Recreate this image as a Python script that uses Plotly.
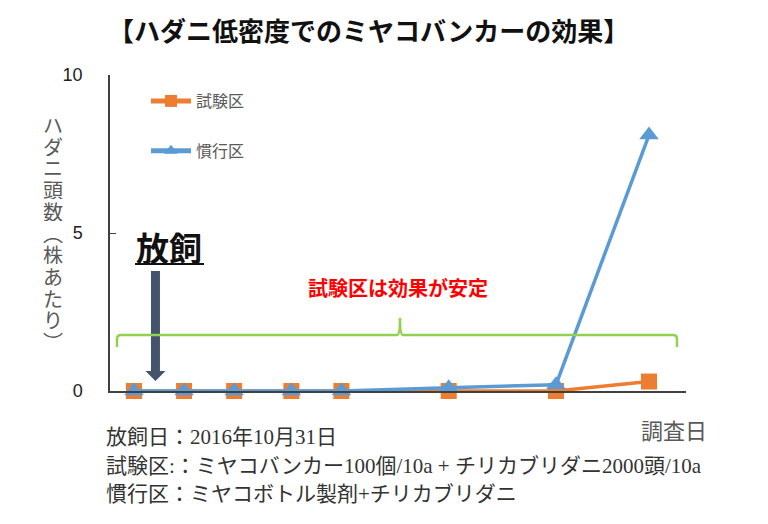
import plotly.graph_objects as go
import pandas as pd

# ---- data ----
survey_dates = ["2016-10-28", "2016-11-04", "2016-11-11", "2016-11-19",
                "2016-11-26", "2016-12-11", "2016-12-26", "2017-01-08"]
trial_plot = [0, 0, 0, 0, 0, 0, 0, 0.3]          # 試験区
conventional_plot = [0, 0, 0, 0, 0, 0.1, 0.2, 8.1]  # 慣行区
series_names = ["試験区", "慣行区"]
y_ticks = [0, 5, 10]
release_date = "2016-10-31"

title_text = "【ハダニ低密度でのミヤコバンカーの効果】"
y_title_chars = ["ハ", "ダ", "ニ", "頭", "数", "︵", "株", "あ", "た", "り", "︶"]
note_lines = ["放飼日：2016年10月31日",
              "試験区:：ミヤコバンカー100個/10a + チリカブリダニ2000頭/10a",
              "慣行区：ミヤコボトル製剤+チリカブリダニ"]

# ---- layout geometry (pixels) ----
W, H = 768, 524
L, R, T, B = 110, 686, 75, 391


def xp(px):
    return (px - L) / (R - L)


def yp(py):
    return (B - py) / (B - T)


d0 = pd.Timestamp(survey_dates[0])
d1 = pd.Timestamp(survey_dates[-1])
ppd = (649 - 134) / ((d1 - d0).days)
x_start = d0 - pd.Timedelta(days=(134 - L) / ppd)
x_end = d1 + pd.Timedelta(days=(R - 649) / ppd)

ORANGE = "#ED7D31"
BLUE = "#5B9BD5"
JP = "Noto Sans CJK JP"

fig = go.Figure()
fig.add_trace(go.Scatter(
    x=survey_dates, y=trial_plot, name=series_names[0], mode="lines+markers",
    line=dict(color=ORANGE, width=3.5),
    marker=dict(symbol="square", size=16, color=ORANGE),
    cliponaxis=False, legendgroup="a"))
fig.add_trace(go.Scatter(
    x=survey_dates, y=conventional_plot, name=series_names[1], mode="lines+markers",
    line=dict(color=BLUE, width=3.5),
    marker=dict(symbol="triangle-up", size=17, color=BLUE),
    cliponaxis=False, legendgroup="b"))

fig.update_layout(
    width=W, height=H,
    margin=dict(l=L, r=W - R, t=T, b=H - B),
    paper_bgcolor="white", plot_bgcolor="white",
    font=dict(family=JP, color="#404040"),
    showlegend=True,
    legend=dict(x=xp(146), y=yp(84), xanchor="left", yanchor="top",
                font=dict(size=16, color="#595959", family=JP),
                itemwidth=40, itemsizing="constant",
                traceorder="grouped", tracegroupgap=26,
                bgcolor="rgba(0,0,0,0)"),
    xaxis=dict(type="date", range=[x_start, x_end], showticklabels=False,
               showgrid=False, zeroline=False, showline=True,
               linecolor="#404040", linewidth=1.5, ticks=""),
    yaxis=dict(range=[0, 10], tickvals=y_ticks, ticks="inside", ticklen=6,
               tickcolor="#404040", showgrid=False, zeroline=False,
               showline=True, linecolor="#404040", linewidth=1.5,
               ticklabelstandoff=22,
               tickfont=dict(size=18, color="#222222", family="Liberation Sans")),
)


def label(text, x, y, size, color, xanchor="center", family=JP, **kw):
    return dict(text=text, x=xp(x), y=yp(y), xref="paper", yref="paper",
                xanchor=xanchor, yanchor="middle", showarrow=False,
                font=dict(size=size, color=color, family=family), **kw)


ann = [
    label("<b>" + title_text + "</b>", 368, 30, 26, "#111111"),
    label("<b>放飼</b>", 169, 247, 33, "#111111"),
    label("<b>試験区は効果が安定</b>", 398, 287, 20, "#FF0000"),
    label("調査日", 674, 429, 22, "#595959"),
]
# vertical y-axis title, one character per row
for i, ch in enumerate(y_title_chars):
    ann.append(label(ch, 53, 124 + 21.7 * i, 20, "#595959",
                     height=20, borderpad=0, valign="middle"))
for i, line in enumerate(note_lines):
    ann.append(label(line, 104, 437 + 28.5 * i, 21, "#333333", xanchor="left",
                     family="Liberation Serif, " + JP))
fig.update_layout(annotations=ann)

# underline for 放飼
fig.add_shape(type="line", xref="paper", yref="paper",
              x0=xp(135), x1=xp(204), y0=yp(264), y1=yp(264),
              line=dict(color="#111111", width=2))

# release arrow (filled) at the release date
cx = L + (pd.Timestamp(release_date) - x_start).total_seconds() / 86400 * ppd
arrow_path = (f"M {xp(cx-4.5)} {yp(271)} L {xp(cx+4.5)} {yp(271)} "
              f"L {xp(cx+4.5)} {yp(371)} L {xp(cx+10)} {yp(371)} "
              f"L {xp(cx)} {yp(381)} L {xp(cx-10)} {yp(371)} "
              f"L {xp(cx-4.5)} {yp(371)} Z")
fig.add_shape(type="path", xref="paper", yref="paper", path=arrow_path,
              fillcolor="#44546A", line=dict(color="#44546A", width=0))

# green bracket
gy, gb, gt = 335, 347, 318
gl, gr, gm = 117, 677, 400
bp = (f"M {xp(gl)} {yp(gb)} L {xp(gl)} {yp(gy+4)} "
      f"Q {xp(gl)} {yp(gy)} {xp(gl+4)} {yp(gy)} "
      f"L {xp(gm-3)} {yp(gy)} Q {xp(gm)} {yp(gy)} {xp(gm)} {yp(gt)} "
      f"Q {xp(gm)} {yp(gy)} {xp(gm+3)} {yp(gy)} "
      f"L {xp(gr-4)} {yp(gy)} Q {xp(gr)} {yp(gy)} {xp(gr)} {yp(gy+4)} "
      f"L {xp(gr)} {yp(gb)}")
fig.add_shape(type="path", xref="paper", yref="paper", path=bp,
              line=dict(color="#92D050", width=2.5))

fig.write_html("out.html")
